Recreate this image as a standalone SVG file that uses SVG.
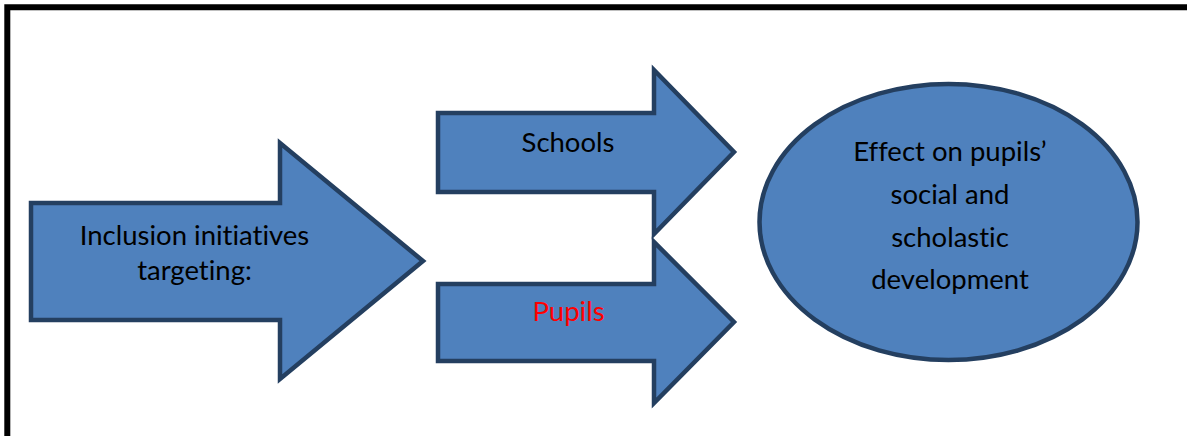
<svg xmlns="http://www.w3.org/2000/svg" width="1187" height="436" viewBox="0 0 1187 436">
<style>
.shape{fill:#4F81BD;stroke:#243F60;stroke-width:4.5;stroke-linejoin:miter}
.t{font-family:Lato,"Open Sans","Liberation Sans",sans-serif;font-size:27.5px;fill:#000;text-anchor:middle;font-variant-ligatures:none}
</style>
<rect width="1187" height="436" fill="#fff"/>
<path d="M7.3,436 V7.3 H1187" fill="none" stroke="#000" stroke-width="6"/>
<g id="inclusion">
<polygon class="shape" points="31,203 280,203 280,143 423,261 280,379 280,320 31,320"/>
<text class="t" x="194.5" y="245">Inclusion initiatives</text>
<text class="t" x="194.5" y="280">targeting:</text>
</g>
<g id="schools">
<polygon class="shape" points="438,113 654,113 654,70 734,152 654,234 654,192 438,192"/>
<text class="t" x="568" y="152">Schools</text>
</g>
<g id="pupils">
<polygon class="shape" points="438,284 654,284 654,242 734,322 654,403 654,361 438,361"/>
<text class="t" x="568.5" y="321" style="fill:#FF0000">Pupils</text>
</g>
<g id="effect">
<ellipse class="shape" cx="948.5" cy="222" rx="189" ry="138"/>
<text class="t" x="950" y="161">Effect on pupils’</text>
<text class="t" x="950" y="203.5">social and</text>
<text class="t" x="950" y="246.5">scholastic</text>
<text class="t" x="950" y="289">development</text>
</g>
<g id="connectors"></g>
</svg>
